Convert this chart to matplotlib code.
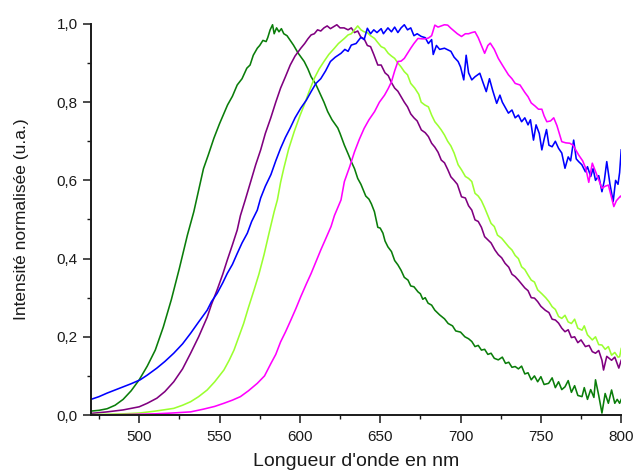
import matplotlib
matplotlib.use("Agg")
import matplotlib.pyplot as plt
from matplotlib.ticker import MultipleLocator, FuncFormatter

plt.rcParams['font.family'] = ['Liberation Sans', 'DejaVu Sans']

# Spectra (wavelength in nm, normalised intensity)
wl_green = [470, 475, 480, 485, 490, 495, 500, 505, 510, 515, 520, 525, 530, 534, 537, 540, 543,
            546.5, 550, 555, 558, 561, 564, 567, 569, 571, 573.5, 575, 577, 579, 580, 581.5, 583,
            584, 585.5, 587, 588.5, 590, 592, 594, 596, 599, 602.7, 605, 607, 610, 612, 615, 617.3,
            620, 623.6, 625, 627.7, 630, 632, 634, 636, 638, 641, 643, 644.5, 646.4, 648.5, 650,
            651.7, 653, 654.8, 657, 659, 661, 663, 665, 667.3, 669, 671, 673.5, 675, 676.5, 678,
            679.8, 682, 684, 687, 690, 692.3, 695, 697, 700, 702.7, 705, 707, 709, 711, 713, 715,
            717, 719, 721, 723.5, 726, 728, 730, 732, 734, 736, 738, 740, 742, 744, 746, 748, 750,
            752, 754.8, 757, 759, 761, 763, 765, 767, 769, 771, 773, 775.6, 777, 779, 781, 783,
            784, 786, 788, 790, 792, 794, 796, 797.5, 799, 800]
int_green = [0.010, 0.012, 0.016, 0.025, 0.040, 0.062, 0.090, 0.125, 0.166, 0.225, 0.295, 0.375,
             0.460, 0.520, 0.575, 0.630, 0.665, 0.708, 0.745, 0.793, 0.815, 0.844, 0.860, 0.887,
             0.895, 0.920, 0.938, 0.945, 0.958, 0.955, 0.965, 0.985, 0.998, 0.975, 0.990, 0.980,
             0.988, 0.975, 0.970, 0.958, 0.946, 0.925, 0.904, 0.885, 0.865, 0.845, 0.827, 0.800,
             0.776, 0.755, 0.734, 0.720, 0.690, 0.668, 0.648, 0.630, 0.605, 0.590, 0.560, 0.552,
             0.540, 0.520, 0.480, 0.478, 0.465, 0.445, 0.430, 0.418, 0.395, 0.384, 0.370, 0.352,
             0.345, 0.330, 0.328, 0.315, 0.310, 0.296, 0.300, 0.286, 0.281, 0.268, 0.256, 0.246,
             0.234, 0.228, 0.215, 0.212, 0.200, 0.195, 0.188, 0.175, 0.178, 0.166, 0.168, 0.155,
             0.158, 0.145, 0.141, 0.148, 0.132, 0.135, 0.122, 0.124, 0.118, 0.125, 0.105, 0.108,
             0.090, 0.100, 0.085, 0.098, 0.078, 0.081, 0.095, 0.070, 0.085, 0.065, 0.072, 0.088,
             0.058, 0.075, 0.050, 0.047, 0.070, 0.040, 0.065, 0.045, 0.090, 0.050, 0.005, 0.055,
             0.030, 0.064, 0.030, 0.040, 0.030, 0.040]

wl_purple = [470, 480, 490, 500, 505, 511, 516, 521.5, 527, 532, 537, 542.3, 545, 548.5, 552,
             554.8, 558, 561, 563, 566, 569.4, 572.5, 575.6, 578.5, 581.9, 585, 588, 591, 594, 597,
             600.6, 603, 605, 607, 609, 611, 613, 615, 617, 619, 621, 623, 625, 627.5, 630, 632,
             634, 636, 638, 640, 642, 644, 646, 648.5, 650.6, 653, 655, 657, 659, 661, 663, 665,
             667, 669, 671, 673, 675.6, 678, 680, 682, 684, 686, 688, 690, 692, 694, 696, 698,
             700.6, 703, 705, 707, 709, 711, 713, 715, 717, 719, 721.4, 723.5, 725.6, 727.7, 730,
             732, 734, 736, 738, 740, 742, 744, 746, 748, 750, 752.7, 755, 757, 759, 761, 763, 765,
             767, 769, 771, 773, 775, 777.7, 780, 782, 784, 786, 788, 789, 791, 794, 796, 798.5, 800]
int_purple = [0.004, 0.008, 0.013, 0.021, 0.030, 0.043, 0.060, 0.085, 0.118, 0.158, 0.200, 0.250,
              0.283, 0.320, 0.360, 0.396, 0.435, 0.473, 0.510, 0.550, 0.597, 0.640, 0.678, 0.720,
              0.760, 0.800, 0.836, 0.865, 0.895, 0.918, 0.938, 0.950, 0.962, 0.972, 0.975, 0.985,
              0.982, 0.990, 0.995, 0.988, 0.993, 0.998, 0.990, 0.990, 0.985, 0.990, 0.978, 0.982,
              0.966, 0.962, 0.945, 0.942, 0.922, 0.895, 0.895, 0.875, 0.868, 0.850, 0.836, 0.828,
              0.814, 0.800, 0.788, 0.770, 0.760, 0.752, 0.729, 0.722, 0.712, 0.695, 0.685, 0.672,
              0.652, 0.645, 0.628, 0.609, 0.600, 0.590, 0.558, 0.555, 0.535, 0.524, 0.499, 0.495,
              0.480, 0.456, 0.448, 0.440, 0.422, 0.410, 0.402, 0.388, 0.378, 0.360, 0.354, 0.345,
              0.335, 0.325, 0.318, 0.300, 0.299, 0.290, 0.278, 0.268, 0.262, 0.245, 0.243, 0.235,
              0.222, 0.213, 0.218, 0.198, 0.200, 0.185, 0.192, 0.175, 0.178, 0.162, 0.158, 0.165,
              0.140, 0.115, 0.150, 0.140, 0.148, 0.120, 0.140]

wl_lime = [470, 480, 490, 500, 510, 515, 521.5, 527, 532, 537, 542.3, 547, 552.7, 556, 559, 562,
           565, 568, 571.5, 574.5, 577.7, 580.8, 584, 586, 588, 590, 593, 596.5, 600, 602.7, 606,
           609, 612, 615, 618, 621.5, 624, 627.7, 630, 632, 634, 636, 638, 640, 642, 644, 646.5,
           648, 650.6, 652.7, 655, 657, 659, 661, 663, 665, 667, 669, 671.5, 674, 675.5, 677.7,
           680, 682, 684, 686, 688, 690, 692, 694, 696, 698.5, 700.6, 703, 705, 707, 709, 711, 713,
           715, 717, 719, 721, 723, 725.6, 728, 730, 732, 734, 736, 738, 740, 742, 744, 746, 748,
           750.6, 753, 755, 757, 759, 761, 763, 765, 767, 769, 771, 773, 775.6, 777, 779, 782, 784,
           786, 788, 790, 792, 794, 796, 798, 799, 800]
int_lime = [0.001, 0.002, 0.003, 0.005, 0.010, 0.013, 0.017, 0.025, 0.034, 0.047, 0.064, 0.085,
            0.115, 0.140, 0.166, 0.200, 0.234, 0.275, 0.320, 0.360, 0.410, 0.465, 0.520, 0.550,
            0.595, 0.631, 0.680, 0.725, 0.765, 0.793, 0.830, 0.861, 0.885, 0.904, 0.922, 0.938,
            0.950, 0.963, 0.972, 0.975, 0.985, 0.995, 0.985, 0.980, 0.978, 0.970, 0.963, 0.955,
            0.942, 0.938, 0.925, 0.918, 0.912, 0.900, 0.890, 0.878, 0.870, 0.848, 0.836, 0.820,
            0.800, 0.793, 0.788, 0.767, 0.750, 0.740, 0.729, 0.716, 0.700, 0.688, 0.670, 0.640,
            0.627, 0.610, 0.605, 0.597, 0.567, 0.560, 0.548, 0.530, 0.510, 0.490, 0.482, 0.460,
            0.452, 0.440, 0.430, 0.422, 0.408, 0.400, 0.379, 0.372, 0.358, 0.345, 0.340, 0.320,
            0.310, 0.300, 0.290, 0.277, 0.270, 0.252, 0.247, 0.255, 0.238, 0.234, 0.245, 0.222,
            0.217, 0.228, 0.205, 0.192, 0.200, 0.180, 0.179, 0.168, 0.175, 0.153, 0.160, 0.148,
            0.149, 0.170]

wl_blue = [470, 475, 480, 485, 490, 495, 500.6, 505, 511, 516, 521.5, 527, 532, 537, 542.3, 545,
           548.5, 552, 554.8, 558, 561, 564, 567.3, 570, 573.5, 575.6, 578.5, 582, 585, 588, 591,
           594, 597, 600.6, 604, 607, 610, 613, 616, 619, 622, 625.6, 628, 630, 632, 635, 638, 640,
           642, 644, 646, 648, 650.6, 652, 654.8, 657, 659, 661, 663, 665, 667, 669, 671, 673,
           675.6, 678, 680, 682, 683, 685, 687, 690, 692, 694, 696, 698.5, 700, 702, 703.5, 705,
           707, 709, 712, 714, 716, 718, 720, 722.5, 724.5, 726, 728, 729.8, 732, 734, 736, 738,
           740, 742, 743.5, 745.4, 747, 749, 750.6, 752, 753.5, 755, 757, 759, 761, 763, 765, 767,
           768.5, 770.4, 772, 773.5, 775.5, 777.7, 779, 781, 782.5, 784, 786, 788, 789.5, 791, 793,
           795, 796.5, 798, 799, 800]
int_blue = [0.040, 0.047, 0.056, 0.064, 0.072, 0.080, 0.090, 0.102, 0.120, 0.137, 0.158, 0.182,
            0.209, 0.238, 0.268, 0.290, 0.311, 0.338, 0.362, 0.385, 0.413, 0.440, 0.465, 0.495,
            0.524, 0.555, 0.585, 0.615, 0.650, 0.682, 0.710, 0.734, 0.760, 0.785, 0.805, 0.827,
            0.848, 0.860, 0.880, 0.904, 0.915, 0.925, 0.935, 0.930, 0.946, 0.950, 0.966, 0.960,
            0.989, 0.975, 0.985, 0.978, 0.988, 0.975, 0.990, 0.980, 0.992, 0.978, 0.990, 0.998,
            0.985, 0.990, 0.970, 0.975, 0.968, 0.965, 0.950, 0.960, 0.922, 0.945, 0.935, 0.938,
            0.934, 0.930, 0.915, 0.904, 0.890, 0.857, 0.920, 0.875, 0.857, 0.865, 0.874, 0.850,
            0.827, 0.860, 0.830, 0.797, 0.818, 0.800, 0.785, 0.772, 0.780, 0.760, 0.767, 0.750,
            0.760, 0.742, 0.755, 0.703, 0.742, 0.720, 0.678, 0.705, 0.730, 0.690, 0.686, 0.700,
            0.682, 0.670, 0.631, 0.660, 0.650, 0.703, 0.655, 0.648, 0.640, 0.622, 0.635, 0.610,
            0.630, 0.600, 0.612, 0.571, 0.600, 0.648, 0.590, 0.546, 0.600, 0.590, 0.620, 0.678]

wl_magenta = [470, 490, 500, 510, 520, 532, 540, 547, 552.7, 558, 563, 568, 573.5, 578, 582, 585,
              588, 591, 594.4, 597.5, 600.6, 604, 607, 610, 613, 616, 619.4, 621.5, 625.6, 627.7,
              631, 634, 637, 640, 643, 646.5, 649.5, 652.7, 655, 657, 659, 661, 663, 665, 667, 669,
              671, 673.5, 676, 678, 680, 682, 684, 686, 688, 690, 692, 694, 696, 698, 700.6, 703,
              705, 707, 709, 711, 713, 715, 717, 718.5, 721, 723.5, 726, 729.8, 732, 734, 737, 740,
              742, 744, 746.4, 748.5, 750.6, 752, 753.7, 756, 758, 760, 763, 765.5, 768, 770,
              773.5, 776, 778, 779.8, 782, 785, 788, 790, 792, 795.4, 797, 799.6, 800]
int_magenta = [0.000, 0.001, 0.002, 0.003, 0.005, 0.008, 0.015, 0.022, 0.030, 0.038, 0.047, 0.062,
               0.081, 0.100, 0.132, 0.155, 0.187, 0.212, 0.243, 0.272, 0.303, 0.335, 0.362, 0.392,
               0.422, 0.450, 0.482, 0.510, 0.550, 0.597, 0.635, 0.673, 0.705, 0.733, 0.755, 0.776,
               0.800, 0.818, 0.835, 0.852, 0.880, 0.904, 0.905, 0.912, 0.925, 0.938, 0.950, 0.963,
               0.962, 0.962, 0.964, 0.970, 0.997, 0.992, 0.995, 0.998, 0.997, 0.989, 0.982, 0.975,
               0.968, 0.975, 0.975, 0.978, 0.980, 0.965, 0.945, 0.925, 0.945, 0.951, 0.935, 0.912,
               0.895, 0.870, 0.860, 0.848, 0.844, 0.825, 0.814, 0.798, 0.790, 0.782, 0.782, 0.765,
               0.750, 0.752, 0.760, 0.740, 0.699, 0.696, 0.695, 0.690, 0.665, 0.650, 0.630, 0.595,
               0.644, 0.612, 0.580, 0.585, 0.588, 0.533, 0.548, 0.560, 0.558]

fig = plt.figure(figsize=(6.35, 4.7), dpi=100)
ax = fig.add_axes([0.1433, 0.117, 0.835, 0.832])

lw = 1.15
ax.plot(wl_green, int_green, color='#0a7d0a', lw=lw)
ax.plot(wl_purple, int_purple, color='#800080', lw=lw)
ax.plot(wl_lime, int_lime, color='#9bff30', lw=lw)
ax.plot(wl_blue, int_blue, color='#0000ff', lw=lw)
ax.plot(wl_magenta, int_magenta, color='#ff00ff', lw=lw)

ax.set_xlim(470, 800)
ax.set_ylim(0, 1.0)

ax.spines['top'].set_visible(False)
ax.spines['right'].set_visible(False)
for s in ['left', 'bottom']:
    ax.spines[s].set_linewidth(1.4)
    ax.spines[s].set_color('#1a1a1a')

ax.xaxis.set_major_locator(MultipleLocator(50))
ax.xaxis.set_minor_locator(MultipleLocator(25))
ax.yaxis.set_major_locator(MultipleLocator(0.2))
ax.yaxis.set_minor_locator(MultipleLocator(0.1))
ax.yaxis.set_major_formatter(FuncFormatter(lambda v, p: f"{v:.1f}".replace('.', ',')))
ax.tick_params(which='major', direction='out', length=5.5, width=1.1, labelsize=11,
               colors='#1a1a1a')
ax.tick_params(axis='y', which='major', pad=4)
ax.tick_params(axis='x', which='major', pad=5)
ax.tick_params(which='minor', direction='out', length=3, width=1.0, colors='#1a1a1a')

ax.set_xlabel("Longueur d'onde en nm", fontsize=14, color='#1a1a1a', labelpad=7)
ax.set_ylabel("Intensité normalisée (u.a.)", fontsize=12.5, color='#1a1a1a', labelpad=20)

fig.savefig('out.png', dpi=100)
